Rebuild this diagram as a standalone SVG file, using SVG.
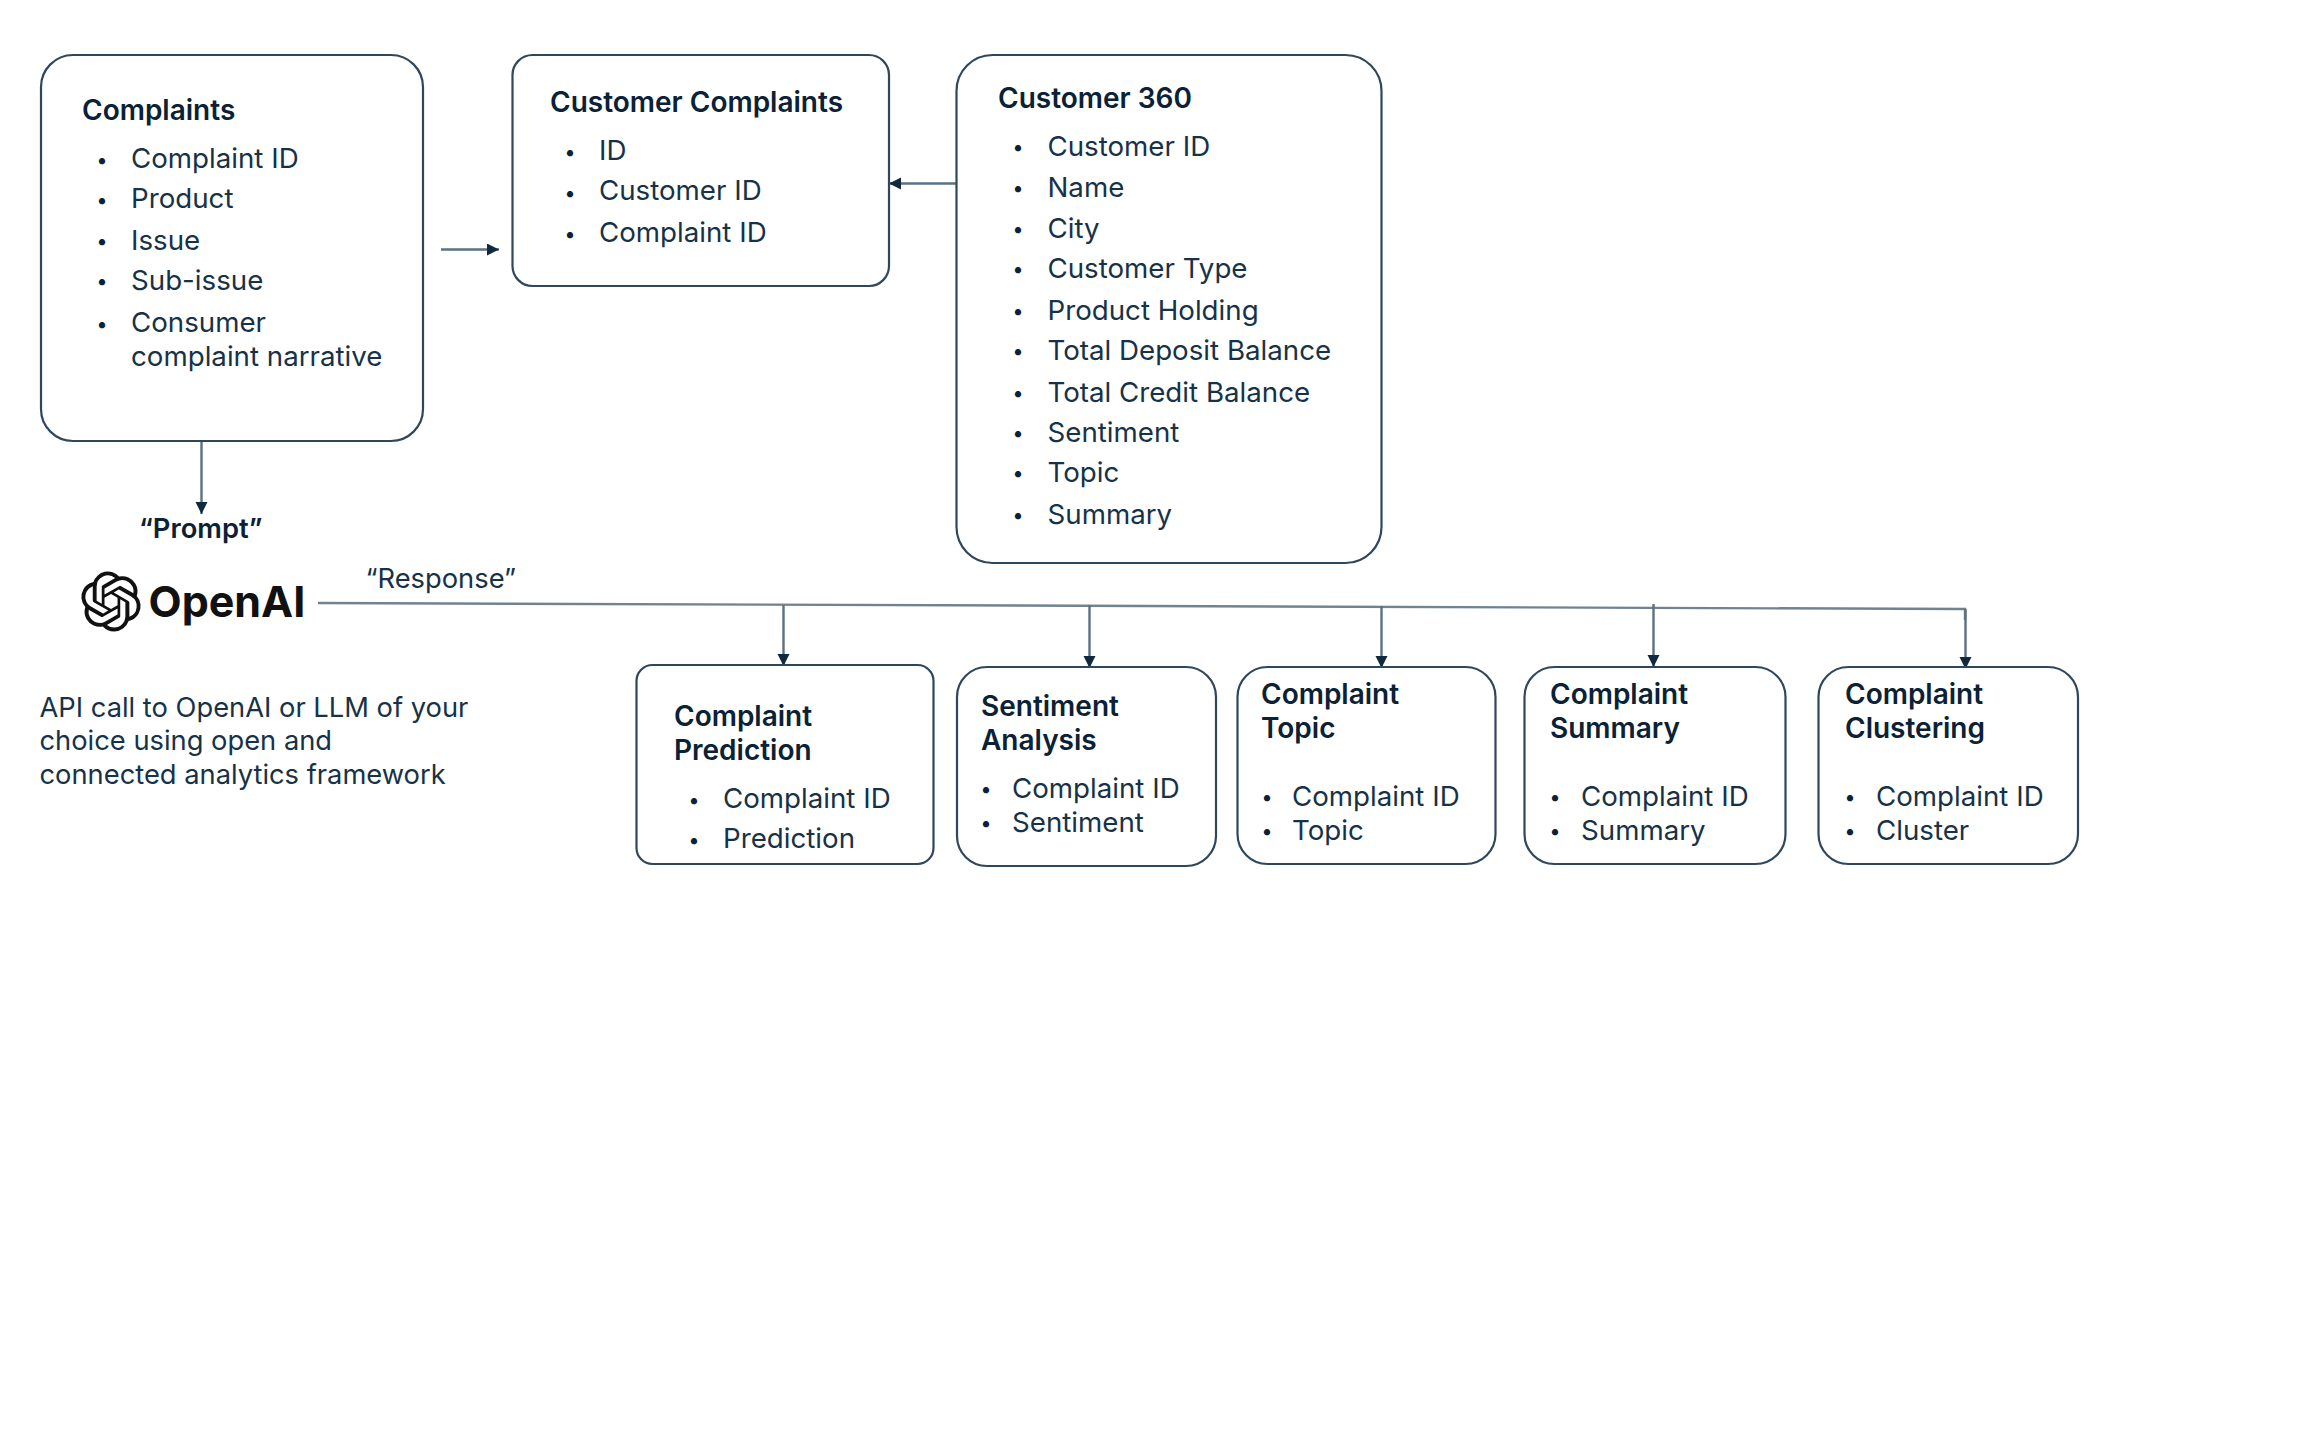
<svg xmlns="http://www.w3.org/2000/svg" width="2304" height="1440" viewBox="0 0 2304 1440">
<style>
text{font-family:Inter,"Liberation Sans",sans-serif;fill:#10293f}
.t{font-size:28px;font-weight:600;fill:#0a2136}
.b{font-size:27.700px;font-weight:400;fill:#173248}
.s{font-size:27.300px;font-weight:400;fill:#173248}
.d{font-size:20px;font-weight:700;text-anchor:middle;fill:#0a2136}
.box{fill:#fff;stroke:#2f475c;stroke-width:2.200}
.c{fill:none;stroke:#5b7082;stroke-width:2.400;marker-end:url(#a)}
.l{fill:none;stroke:#71838f;stroke-width:2.400}
</style>
<defs><marker id="a" markerUnits="userSpaceOnUse" markerWidth="14" markerHeight="14" refX="12" refY="6" orient="auto"><path d="M0 0L12 6L0 12Z" fill="#10293f"/></marker></defs>
<rect width="2304" height="1440" fill="#fff"/>
<g id="connectors">
<path class="c" d="M441 249.500H499"/>
<path class="c" d="M956 183.500H889"/>
<path class="c" d="M201.500 441V514"/>
<path class="l" d="M318 603L1965 609V620"/>
<path class="c" d="M783.500 605V666"/>
<path class="c" d="M1089.500 605V668"/>
<path class="c" d="M1381.500 606V668"/>
<path class="c" d="M1653.500 604V667"/>
<path class="c" d="M1965.500 609V669"/>
</g>
<g id="complaints"><rect class="box" x="41" y="55" width="382" height="386" rx="32"/>
<text class="t" x="82" y="120">Complaints</text>
<text class="b" x="131" y="168">Complaint ID</text><text class="b" x="131" y="208">Product</text><text class="b" x="131" y="250">Issue</text><text class="b" x="131" y="290">Sub-issue</text><text class="b" x="131" y="332">Consumer</text><text class="b" x="131" y="366">complaint narrative</text>
<text class="d" x="102" y="167">•</text><text class="d" x="102" y="207">•</text><text class="d" x="102" y="248">•</text><text class="d" x="102" y="288">•</text><text class="d" x="102" y="331">•</text></g>
<g id="customer-complaints"><rect class="box" x="512.500" y="55" width="376.500" height="231" rx="20"/>
<text class="t" x="550" y="112">Customer Complaints</text>
<text class="b" x="599" y="160">ID</text><text class="b" x="599" y="200">Customer ID</text><text class="b" x="599" y="242">Complaint ID</text>
<text class="d" x="570" y="159">•</text><text class="d" x="570" y="200">•</text><text class="d" x="570" y="241">•</text></g>
<g id="customer-360"><rect class="box" x="956.500" y="55" width="425" height="508" rx="36"/>
<text class="t" x="998" y="108">Customer 360</text>
<text class="b" x="1047.500" y="156">Customer ID</text><text class="b" x="1047.500" y="197">Name</text><text class="b" x="1047.500" y="238">City</text><text class="b" x="1047.500" y="278">Customer Type</text><text class="b" x="1047.500" y="320">Product Holding</text><text class="b" x="1047.500" y="360">Total Deposit Balance</text><text class="b" x="1047.500" y="402">Total Credit Balance</text><text class="b" x="1047.500" y="442">Sentiment</text><text class="b" x="1047.500" y="482">Topic</text><text class="b" x="1047.500" y="524">Summary</text>
<text class="d" x="1018" y="154">•</text><text class="d" x="1018" y="195">•</text><text class="d" x="1018" y="236">•</text><text class="d" x="1018" y="276">•</text><text class="d" x="1018" y="318">•</text><text class="d" x="1018" y="358">•</text><text class="d" x="1018" y="400">•</text><text class="d" x="1018" y="440">•</text><text class="d" x="1018" y="480">•</text><text class="d" x="1018" y="522">•</text></g>
<g id="openai"><path transform="translate(81 571.500) scale(2.500)" fill="#111" d="M22.2819 9.8211a5.9847 5.9847 0 0 0-.5157-4.9108 6.0462 6.0462 0 0 0-6.5098-2.9A6.0651 6.0651 0 0 0 4.9807 4.1818a5.9847 5.9847 0 0 0-3.9977 2.9 6.0462 6.0462 0 0 0 .7427 7.0966 5.98 5.98 0 0 0 .511 4.9107 6.051 6.051 0 0 0 6.5146 2.9001A5.9847 5.9847 0 0 0 13.2599 24a6.0557 6.0557 0 0 0 5.7718-4.2058 5.9894 5.9894 0 0 0 3.9977-2.9001 6.0557 6.0557 0 0 0-.7475-7.0729zm-9.022 12.6081a4.4755 4.4755 0 0 1-2.8764-1.0408l.1419-.0804 4.7783-2.7582a.7948.7948 0 0 0 .3927-.6813v-6.7369l2.02 1.1686a.071.071 0 0 1 .038.052v5.5826a4.504 4.504 0 0 1-4.4945 4.4944zm-9.6607-4.1254a4.4708 4.4708 0 0 1-.5346-3.0137l.142.0852 4.783 2.7582a.7712.7712 0 0 0 .7806 0l5.8428-3.3685v2.3324a.0804.0804 0 0 1-.0332.0615L9.74 19.9502a4.4992 4.4992 0 0 1-6.1408-1.6464zM2.3408 7.8956a4.485 4.485 0 0 1 2.3655-1.9728V11.6a.7664.7664 0 0 0 .3879.6765l5.8144 3.3543-2.0201 1.1685a.0757.0757 0 0 1-.071 0l-4.8303-2.7865A4.504 4.504 0 0 1 2.3408 7.872zm16.5963 3.8558L13.1038 8.364 15.1192 7.2a.0757.0757 0 0 1 .071 0l4.8303 2.7913a4.4944 4.4944 0 0 1-.6765 8.1042v-5.6772a.79.79 0 0 0-.407-.667zm2.0107-3.0231l-.142-.0852-4.7735-2.7818a.7759.7759 0 0 0-.7854 0L9.409 9.2297V6.8974a.0662.0662 0 0 1 .0284-.0615l4.8303-2.7866a4.4992 4.4992 0 0 1 6.6802 4.66zM8.3065 12.863l-2.02-1.1638a.0804.0804 0 0 1-.038-.0567V6.0742a4.4992 4.4992 0 0 1 7.3757-3.4537l-.142.0805L8.704 5.459a.7948.7948 0 0 0-.3927.6813zm1.0976-2.3654l2.602-1.4998 2.6069 1.4998v2.9994l-2.5974 1.4997-2.6067-1.4997Z"/>
<text x="148.500" y="617" style="font-size:43px;font-weight:700;fill:#111">OpenAI</text></g>
<g id="labels"><text class="t" x="139" y="538" style="font-size:27.300px">“Prompt”</text><text class="s" x="365.500" y="588">“Response”</text>
<text class="s" x="39.500" y="717">API call to OpenAI or LLM of your</text><text class="s" x="39.500" y="750">choice using open and</text><text class="s" x="39.500" y="784">connected analytics framework</text></g>
<g id="complaint-prediction"><rect class="box" x="636.500" y="665" width="297" height="199" rx="16"/>
<text class="t" x="674" y="726">Complaint</text><text class="t" x="674" y="760">Prediction</text>
<text class="b" x="723" y="808">Complaint ID</text><text class="b" x="723" y="848">Prediction</text><text class="d" x="694" y="807">•</text><text class="d" x="694" y="847">•</text></g>
<g id="sentiment-analysis"><rect class="box" x="957" y="667" width="259" height="199" rx="30"/>
<text class="t" x="981" y="716">Sentiment</text><text class="t" x="981" y="750">Analysis</text>
<text class="b" x="1012" y="798">Complaint ID</text><text class="b" x="1012" y="832">Sentiment</text><text class="d" x="986" y="796">•</text><text class="d" x="986" y="830">•</text></g>
<g id="complaint-topic"><rect class="box" x="1237.500" y="667" width="258" height="197" rx="30"/>
<text class="t" x="1261" y="704">Complaint</text><text class="t" x="1261" y="738">Topic</text>
<text class="b" x="1292" y="806">Complaint ID</text><text class="b" x="1292" y="840">Topic</text><text class="d" x="1267" y="804">•</text><text class="d" x="1267" y="838">•</text></g>
<g id="complaint-summary"><rect class="box" x="1524.500" y="667" width="261" height="197" rx="30"/>
<text class="t" x="1550" y="704">Complaint</text><text class="t" x="1550" y="738">Summary</text>
<text class="b" x="1581" y="806">Complaint ID</text><text class="b" x="1581" y="840">Summary</text><text class="d" x="1555" y="804">•</text><text class="d" x="1555" y="838">•</text></g>
<g id="complaint-clustering"><rect class="box" x="1818.500" y="667" width="259.500" height="197" rx="30"/>
<text class="t" x="1845" y="704">Complaint</text><text class="t" x="1845" y="738">Clustering</text>
<text class="b" x="1876" y="806">Complaint ID</text><text class="b" x="1876" y="840">Cluster</text><text class="d" x="1850" y="804">•</text><text class="d" x="1850" y="838">•</text></g>
</svg>
